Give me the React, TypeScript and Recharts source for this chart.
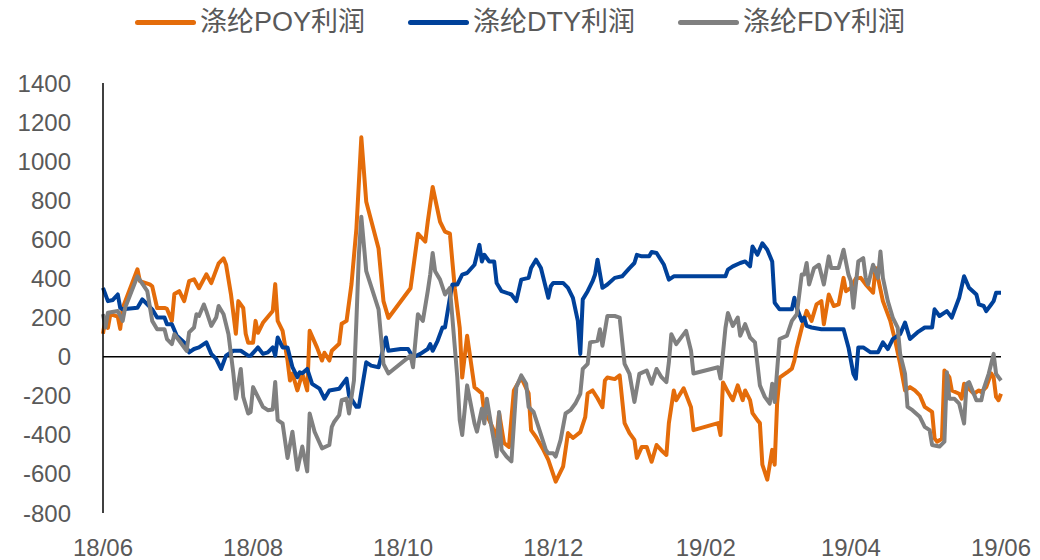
import { LineChart, Line, XAxis, YAxis, ReferenceLine } from 'recharts';

// days counted from 2018-06-01
const tickDays = [0, 61, 122, 183, 245, 304, 365];
const tickLabels = ['18/06', '18/08', '18/10', '18/12', '19/02', '19/04', '19/06'];
const yTicks = [-800, -600, -400, -200, 0, 200, 400, 600, 800, 1000, 1200, 1400];

const poyDays = [
  0, 1, 2, 3, 6, 7, 8, 14, 15, 19, 20, 22, 25, 26, 28, 29, 31, 33, 35, 37,
  39, 42, 44, 47, 49, 50, 52, 54, 55, 57, 58, 59, 61, 62, 63, 65, 69, 70, 71, 73,
  75, 76, 77, 79, 81, 83, 84, 87, 89, 90, 92, 93, 96, 97, 99, 101, 103, 105, 107, 112,
  114, 116, 125, 128, 131, 132, 134, 137, 139, 141, 142, 143, 145, 146, 148, 151, 154, 155, 157, 160,
  161, 163, 165, 167, 170, 173, 174, 176, 179, 181, 184, 187, 189, 191, 194, 196, 197, 199, 201, 203,
  204, 205, 208, 210, 212, 214, 216, 217, 219, 221, 223, 225, 227, 229, 230, 232, 233, 236, 239, 240,
  250, 251, 252, 254, 256, 258, 260, 261, 263, 264, 266, 267, 268, 270, 272, 273, 274, 275, 278, 280,
  281, 282, 284, 286, 288, 290, 292, 293, 295, 297, 299, 301, 302, 304, 306, 308, 310, 313, 314, 315,
  317, 320, 322, 324, 326, 328, 330, 332, 334, 337, 338, 339, 341, 342, 344, 345, 348, 349, 350, 354,
  356, 357, 359, 361, 362, 363, 364, 365,
];
const poyValues = [
  117, 198, 147, 218, 205, 142, 249, 447, 386, 370, 360, 249, 249, 244, 183, 320, 335, 284, 386, 396,
  350, 421, 376, 477, 503, 472, 320, 117, 284, 249, 117, 71, 71, 183, 122, 173, 234, 371, 183, 132,
  -20, -122, -86, -173, -86, -173, 132, 46, -20, 20, -20, 30, 66, 168, 183, 371, 655, 1122, 792, 553,
  284, 198, 350, 629, 589, 690, 868, 690, 640, 629, 487, 350, 147, -107, 107, -157, -188, -289, -325, -411,
  -289, -442, -462, -173, -107, -188, -376, -411, -477, -528, -640, -563, -391, -416, -386, -310, -188, -173, -213, -259,
  -122, -107, -115, -96, -340, -391, -426, -518, -462, -462, -538, -452, -480, -503, -340, -173, -223, -162, -259, -376,
  -340, -401, -132, -180, -223, -147, -223, -173, -223, -289, -325, -340, -553, -629, -477, -553, -239, -107, -81, -61,
  -20, 46, 147, 234, 183, 267, 284, 166, 318, 259, 267, 403, 335, 352, 400, 403, 370, 327, 453, 403,
  284, 183, 81, -37, -173, -156, -173, -198, -257, -283, -418, -435, -420, -71, -105, -173, -190, -215, -139, -190,
  -173, -181, -156, -86, -105, -206, -223, -190,
];

const dtyDays = [
  0, 2, 4, 6, 7, 8, 14, 16, 18, 20, 22, 25, 26, 28, 30, 33, 35, 37, 39, 42,
  44, 46, 48, 50, 53, 56, 59, 60, 63, 65, 67, 69, 70, 71, 73, 75, 77, 79, 80, 81,
  83, 85, 88, 90, 92, 96, 99, 100, 103, 104, 107, 109, 112, 114, 115, 116, 121, 124, 126, 129,
  132, 133, 134, 136, 138, 139, 141, 142, 144, 146, 148, 151, 153, 154, 155, 157, 159, 160, 162, 166,
  168, 170, 173, 174, 176, 178, 181, 182, 183, 187, 189, 191, 193, 194, 195, 197, 199, 200, 201, 203,
  205, 208, 211, 214, 216, 217, 219, 222, 223, 225, 228, 230, 232, 253, 254, 256, 259, 261, 263, 264,
  266, 268, 270, 272, 273, 275, 280, 281, 282, 284, 285, 286, 288, 292, 301, 303, 305, 306, 307, 309,
  312, 315, 317, 319, 321, 324, 326, 328, 331, 334, 337, 338, 340, 343, 345, 348, 350, 352, 355, 356,
  358, 359, 361, 362, 363, 365,
];
const dtyValues = [
  352, 284, 290, 318, 250, 242, 250, 293, 267, 242, 200, 200, 166, 166, 107, 73, 22, 39, 47, 73,
  14, -12, -63, 5, 30, 30, 5, 5, 47, 14, 22, 47, 5, 98, 47, 47, -54, -105, -80, -85,
  -63, -139, -164, -215, -173, -164, -113, -198, -257, -257, -29, -46, -54, 47, 98, 30, 39, 39, -3, 14,
  39, 64, 30, 81, 149, 149, 301, 369, 369, 420, 428, 470, 572, 487, 521, 487, 487, 377, 335, 318,
  284, 394, 403, 453, 496, 453, 301, 360, 377, 377, 352, 301, 183, 14, 293, 335, 386, 420, 496, 352,
  369, 403, 411, 453, 479, 521, 513, 513, 535, 530, 470, 394, 411, 411, 445, 462, 479, 487, 462, 563,
  521, 580, 547, 487, 276, 242, 242, 301, 250, 183, 200, 157, 149, 140, 140, 47, -88, -113, 47, 47,
  22, 22, 73, 39, 90, 115, 174, 90, 124, 149, 149, 242, 208, 233, 200, 301, 411, 352, 318, 267,
  259, 233, 267, 284, 327, 327,
];

const fdyDays = [
  0, 1, 2, 6, 8, 9, 14, 18, 20, 22, 25, 26, 28, 29, 31, 33, 34, 35, 37, 38,
  39, 41, 42, 44, 46, 47, 49, 51, 53, 54, 56, 57, 59, 60, 61, 65, 67, 69, 70, 71,
  73, 75, 77, 79, 81, 83, 84, 86, 89, 92, 93, 94, 96, 97, 99, 100, 102, 103, 104, 105,
  107, 112, 114, 116, 125, 126, 128, 130, 132, 133, 134, 135, 137, 139, 141, 142, 144, 145, 146, 148,
  151, 152, 154, 155, 156, 158, 160, 161, 162, 164, 166, 168, 170, 172, 173, 175, 177, 180, 181, 183,
  184, 186, 188, 190, 192, 194, 195, 197, 198, 201, 202, 203, 205, 208, 210, 212, 214, 216, 218, 221,
  223, 225, 227, 229, 230, 231, 233, 237, 239, 240, 250, 251, 253, 254, 256, 258, 259, 261, 263, 265,
  267, 269, 271, 272, 273, 275, 278, 280, 282, 284, 285, 286, 287, 289, 291, 293, 295, 296, 299, 301,
  303, 304, 305, 307, 309, 310, 311, 313, 315, 316, 317, 319, 321, 323, 324, 326, 327, 329, 332, 334,
  336, 337, 340, 342, 343, 344, 346, 348, 350, 351, 352, 355, 357, 358, 360, 362, 363, 365,
];
const fdyValues = [
  217, 149, 225, 233, 183, 250, 411, 335, 183, 140, 140, 90, 64, 115, 81, 47, 30, 124, 149, 217,
  208, 267, 233, 157, 200, 259, 217, 115, -88, -215, -63, -206, -291, -283, -156, -257, -274, -270, -130, -325,
  -342, -519, -384, -579, -460, -587, -291, -384, -469, -452, -359, -333, -299, -223, -215, -291, -122, 183, 521, 716,
  437, 242, -37, -86, 5, -54, 217, 183, 335, 420, 530, 437, 394, 318, 352, 200, -105, -325, -401, -147,
  -342, -384, -266, -342, -215, -367, -511, -283, -477, -511, -536, -156, -96, -139, -257, -283, -359, -477, -494, -494,
  -511, -426, -291, -274, -240, -190, -63, -37, 73, 81, 140, 56, 208, 208, 200, -37, -88, -232, -88, -71,
  -139, -63, -105, -130, -29, 115, 64, 132, 30, -86, -54, -112, 147, 223, 157, 200, 107, 166, 98, 73,
  -147, -206, -240, -139, -232, 90, 107, 183, 217, 420, 420, 479, 369, 453, 470, 369, 513, 453, 453, 547,
  420, 386, 250, 487, 504, 403, 369, 470, 403, 538, 403, 284, 200, 149, 14, -88, -257, -274, -308, -359,
  -376, -452, -460, -435, -80, -215, -215, -240, -342, -139, -130, -223, -223, -164, -88, 14, -88, -122,
];

const toPoints = (days: number[], values: number[]) =>
  days.map((day, i) => ({ day, value: values[i] }));

const series = [
  { name: '涤纶POY利润', color: '#E46C0A', data: toPoints(poyDays, poyValues) },
  { name: '涤纶DTY利润', color: '#00419A', data: toPoints(dtyDays, dtyValues) },
  { name: '涤纶FDY利润', color: '#808080', data: toPoints(fdyDays, fdyValues) },
];

const tickStyle = { fill: '#595959', fontSize: 24, fontFamily: '"Liberation Sans", Arial, sans-serif' };

export default function App() {
  return (
    <div style={{ position: 'absolute', left: 0, top: 0, width: 1040, height: 560, background: '#fff' }}>
      <div
        style={{
          position: 'absolute',
          top: 8,
          left: 0,
          width: 1040,
          display: 'flex',
          justifyContent: 'center',
          gap: 43,
          fontFamily: '"Liberation Sans", "Noto Sans CJK SC", sans-serif',
          fontSize: 27,
          lineHeight: '28px',
          color: '#595959',
        }}
      >
        {series.map((s) => (
          <div key={s.name} style={{ display: 'flex', alignItems: 'center', gap: 4 }}>
            <div style={{ width: 61, height: 5, borderRadius: 3, background: s.color }} />
            <span>{s.name}</span>
          </div>
        ))}
      </div>
      <LineChart width={1040} height={560} margin={{ top: 83, right: 39, bottom: 0, left: 0 }}>
        <XAxis
          type="number"
          dataKey="day"
          domain={[0, 365]}
          ticks={tickDays}
          interval={0}
          tickFormatter={(d: number) => tickLabels[tickDays.indexOf(d)]}
          axisLine={false}
          tickLine={false}
          tickSize={0}
          tickMargin={26}
          height={47}
          tick={tickStyle}
        />
        <YAxis
          type="number"
          domain={[-800, 1400]}
          ticks={yTicks}
          interval={0}
          width={103}
          axisLine={{ stroke: '#000', strokeWidth: 1.5 }}
          tickLine={false}
          tickSize={0}
          tickMargin={32}
          tick={tickStyle}
        />
        <ReferenceLine y={0} stroke="#000" strokeWidth={1.5} />
        {series.map((s) => (
          <Line
            key={s.name}
            data={s.data}
            dataKey="value"
            name={s.name}
            type="linear"
            stroke={s.color}
            strokeWidth={4}
            strokeLinejoin="round"
            dot={false}
            activeDot={false}
            isAnimationActive={false}
          />
        ))}
      </LineChart>
    </div>
  );
}
